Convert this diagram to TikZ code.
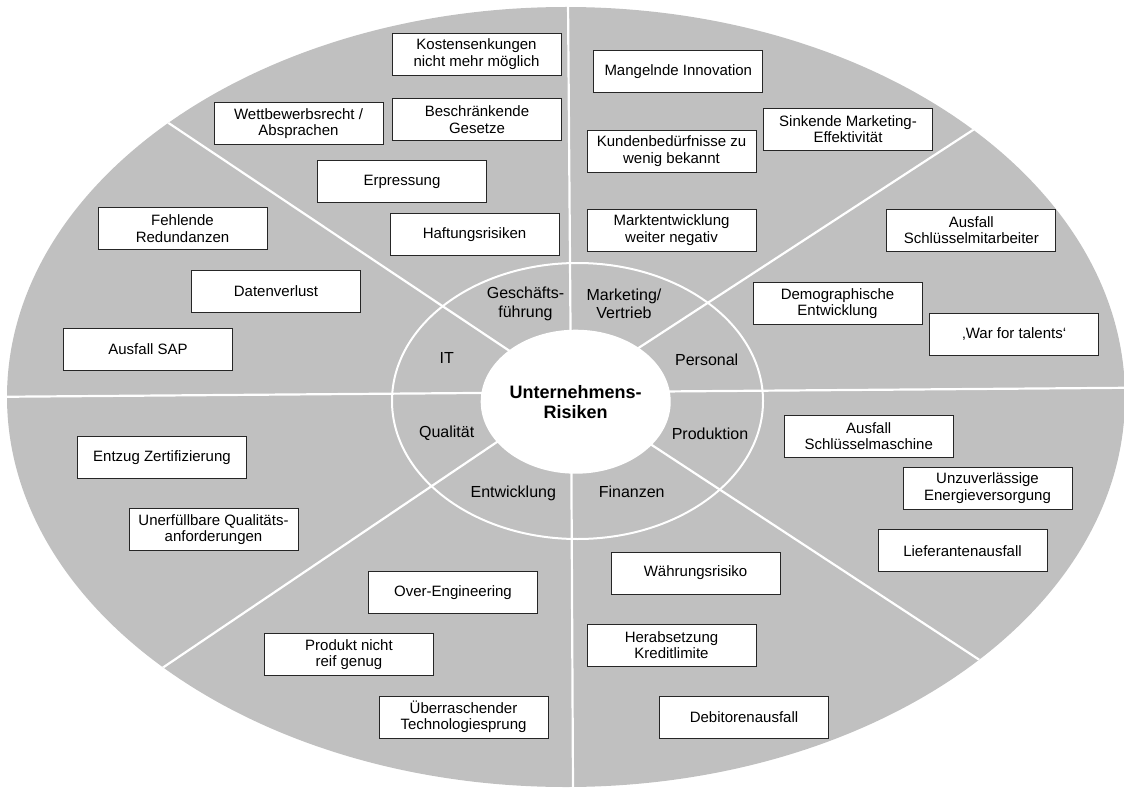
\documentclass[tikz,border=0pt]{standalone}
\usepackage{fontspec}
\setmainfont{Liberation Sans}
\usetikzlibrary{shapes.geometric}
\definecolor{rkGrey}{HTML}{C0C0C0}
\definecolor{rkLine}{HTML}{262626}

\begin{document}
\begin{tikzpicture}[x=1pt,y=-1pt,
  rk/.style={draw=rkLine,fill=white,line width=0.9pt,minimum width=169pt,
             minimum height=42pt,inner sep=0pt,align=center,
             font=\fontsize{15}{16.5}\selectfont},
  kat/.style={align=center,font=\fontsize{16}{18.3}\selectfont},
  sp/.style={white,line width=2.2pt}]
\useasboundingbox (0,0) rectangle (1124,789);
\fill[rkGrey] (566,397) ellipse [x radius=559pt,y radius=390pt];
% spokes
\begin{scope}
  \clip (566,397) ellipse [x radius=559pt,y radius=390pt];
  \coordinate (m) at (571,392);
  \draw[sp] (m) -- (568,0);
  \draw[sp] (m) -- (573,789);
  \draw[sp] (0,396.8) -- (1124,387.8);
  \draw[sp] (m) -- (-8,5);
  \draw[sp] (m) -- (1154,12);
  \draw[sp] (m) -- (-45,808);
  \draw[sp] (m) -- (1193,800);
\end{scope}
\draw[white,line width=2pt] (577.5,401) ellipse [x radius=185.5pt,y radius=138pt];
\node[ellipse,fill=white,minimum width=190pt,minimum height=144pt,inner sep=0pt,
      align=center,font=\bfseries\fontsize{18}{20}\selectfont] (kern) at (575.7,401.7)
      {Unternehmens-\\Risiken};
% ring labels
\node[kat] (gf) at (525.5,304) {Geschäfts-\\führung};
\node[kat] (mv) at (624,304) {Marketing/\\Vertrieb};
\node[kat] (it) at (446.7,358) {IT};
\node[kat] (pe) at (706.7,360) {Personal};
\node[kat] (qu) at (446.7,433.3) {Qualität};
\node[kat] (pr) at (710,433.3) {Produktion};
\node[kat] (en) at (513.3,493.3) {Entwicklung};
\node[kat] (fi) at (631.7,491.7) {Finanzen};
% Geschaeftsfuehrung
\node[rk] (kost) at (476.5,54) {Kostensenkungen\\nicht mehr möglich};
\node[rk] (wett) at (298.5,123.5) {Wettbewerbsrecht /\\Absprachen};
\node[rk] (gese) at (477,119.5) {Beschränkende\\Gesetze};
\node[rk] (erpr) at (402,181.7) {Erpressung};
\node[rk] (haft) at (474.5,234.3) {Haftungsrisiken};
% IT
\node[rk] (redu) at (182.5,228.5) {Fehlende\\Redundanzen};
\node[rk] (date) at (276,291.3) {Datenverlust};
\node[rk] (sap) at (148,349.5) {Ausfall SAP};
% Marketing/Vertrieb
\node[rk] (inno) at (678.3,71.8) {Mangelnde Innovation};
\node[rk] (mark) at (848,129) {Sinkende Marketing-\\Effektivität};
\node[rk] (kund) at (671.5,151) {Kundenbedürfnisse zu\\wenig bekannt};
\node[rk] (mktw) at (671.5,230) {Marktentwicklung\\weiter negativ};
% Personal
\node[rk] (mita) at (971.3,230) {Ausfall\\Schlüsselmitarbeiter};
\node[rk] (demo) at (837.5,303.5) {Demographische\\Entwicklung};
\node[rk] (tale) at (1014.3,334) {‚War for talents‘};
% Qualitaet
\node[rk] (zert) at (162,457.7) {Entzug Zertifizierung};
\node[rk] (qual) at (213.5,529.7) {Unerfüllbare Qualitäts-\\anforderungen};
% Produktion
\node[rk] (masc) at (868.7,436) {Ausfall\\Schlüsselmaschine};
\node[rk] (ener) at (987.5,488) {Unzuverlässige\\Energieversorgung};
\node[rk] (lief) at (962.5,550.7) {Lieferantenausfall};
% Entwicklung
\node[rk] (over) at (453,592.3) {Over-Engineering};
\node[rk] (reif) at (349,654.7) {Produkt nicht\\reif genug};
\node[rk] (tech) at (463.5,717) {Überraschender\\Technologiesprung};
% Finanzen
\node[rk] (waeh) at (695.5,573) {Währungsrisiko};
\node[rk] (kred) at (671.5,645) {Herabsetzung\\Kreditlimite};
\node[rk] (debi) at (744,717) {Debitorenausfall};
\end{tikzpicture}
\end{document}
